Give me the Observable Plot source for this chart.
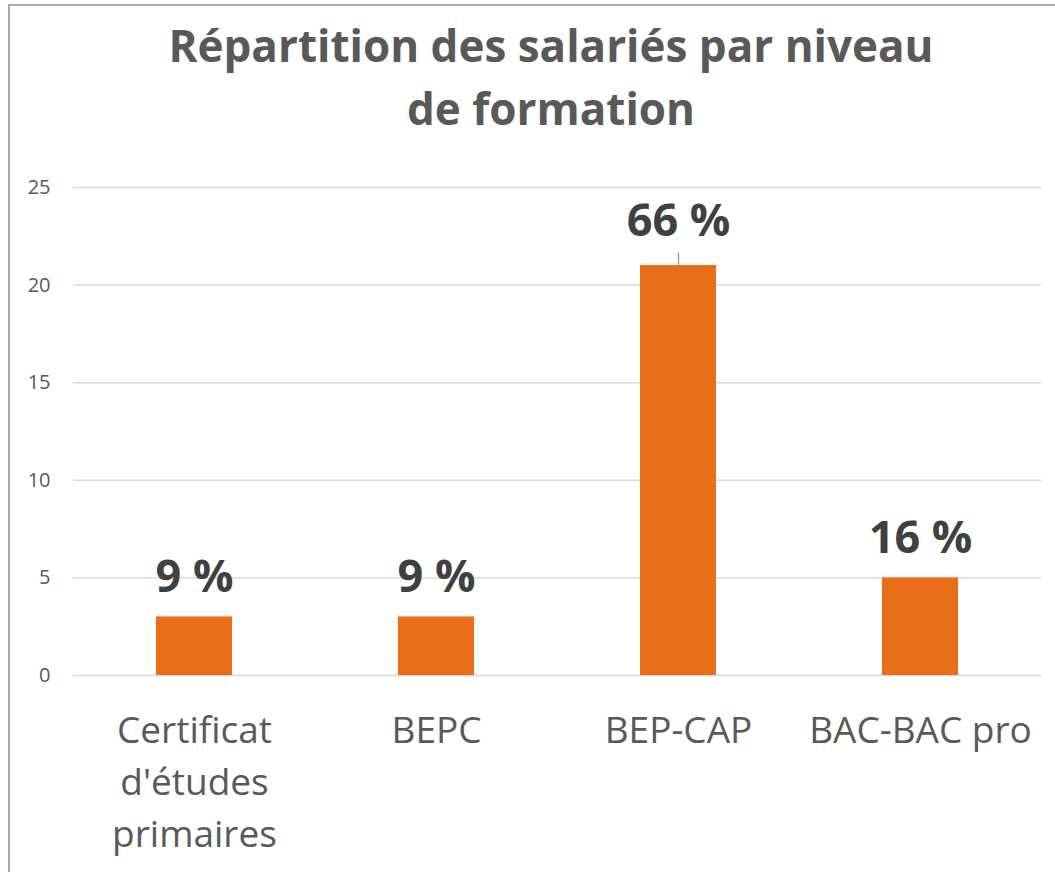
<!DOCTYPE html>
<html>
<head>
<meta charset="utf-8">
<script src="https://cdn.jsdelivr.net/npm/d3@7"></script>
<script src="https://cdn.jsdelivr.net/npm/@observablehq/plot@0.6"></script>
<style>
  html, body { margin: 0; padding: 0; background: #fff; }
  #wrap { position: relative; width: 1055px; height: 872px; overflow: hidden; font-family: "Open Sans", sans-serif; }
  #frame { position: absolute; left: 8px; top: 4px; right: -10px; bottom: -10px; border-left: 2px solid #A9A9A9; border-top: 2px solid #A9A9A9; pointer-events: none; }
  #title { position: absolute; left: 0; width: 1102px; top: 14px; text-align: center; font-weight: bold; font-size: 44px; line-height: 63px; color: #595959; }
  #chart { position: absolute; left: 0; top: 0; }
</style>
</head>
<body>
<div id="wrap">
  <div id="chart"></div>
  <div id="title">Répartition des salariés par niveau<br>de formation</div>
  <div id="frame"></div>
</div>
<script>
const categories = ["Certificat d'études primaires", "BEPC", "BEP-CAP", "BAC-BAC pro"];
const tickLabels = ["Certificat\nd'études\nprimaires", "BEPC", "BEP-CAP", "BAC-BAC pro"];
const values = [3, 3, 21, 5];
const percentLabels = ["9 %", "9 %", "66 %", "16 %"];
const yTicks = [0, 5, 10, 15, 20, 25];

const data = categories.map((c, i) => ({cat: c, value: values[i], label: percentLabels[i], tick: tickLabels[i]}));
const maxIdx = values.indexOf(Math.max(...values));
const normal = data.filter((d, i) => i !== maxIdx);
const lifted = data.filter((d, i) => i === maxIdx);
const tickMap = new Map(data.map(d => [d.cat, d.tick]));

const chart = Plot.plot({
  width: 1055,
  height: 872,
  marginTop: 187,
  marginBottom: 197,
  marginLeft: 73,
  marginRight: 14,
  style: {fontFamily: "'Open Sans', sans-serif", color: "#595959", background: "transparent"},
  x: {domain: categories, paddingInner: 0.686, paddingOuter: 0.343, align: 0.5},
  y: {domain: [0, 25]},
  marks: [
    Plot.ruleY(yTicks, {stroke: "#D9D9D9", strokeWidth: 1.5}),
    Plot.axisY({ticks: yTicks, tickSize: 0, tickPadding: 23, fontSize: 20, fill: "#595959", label: null}),
    Plot.axisX({tickSize: 0, tickPadding: 31, fontSize: 37, lineHeight: 1.405, fill: "#595959", label: null, tickFormat: d => tickMap.get(d)}),
    Plot.barY(data, {x: "cat", y: "value", fill: "#EA6D18"}),
    Plot.ruleX(lifted, {x: "cat", y1: "value", y2: d => d.value + 0.65, stroke: "#A6A6A6", strokeWidth: 1.5}),
    Plot.text(normal, {x: "cat", y: "value", text: "label", dy: -39, fontSize: 45, fontWeight: "bold", fill: "#404040"}),
    Plot.text(lifted, {x: "cat", y: "value", text: "label", dy: -44, fontSize: 45, fontWeight: "bold", fill: "#404040"})
  ]
});
document.getElementById("chart").appendChild(chart);
</script>
</body>
</html>
